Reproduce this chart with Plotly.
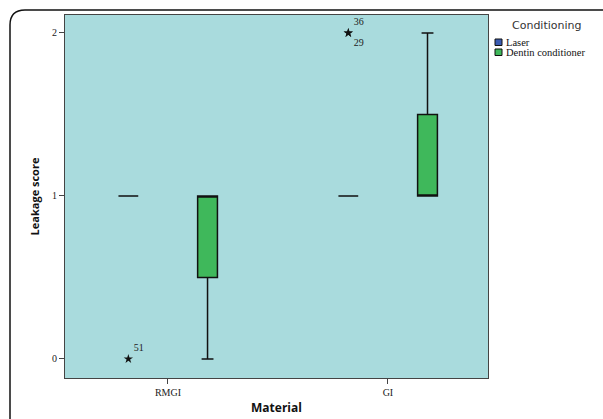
import plotly.graph_objects as go

materials = ["RMGI", "GI"]
conditioning = ["Laser", "Dentin conditioner"]
colors = ["#3a5cb3", "#3fb85b"]

# box statistics per conditioning, per material
q1 = {"Laser": [1, 1], "Dentin conditioner": [0.5, 1]}
median = {"Laser": [1, 1], "Dentin conditioner": [1, 1]}
q3 = {"Laser": [1, 1], "Dentin conditioner": [1, 1.5]}
lowerfence = {"Laser": [1, 1], "Dentin conditioner": [0, 1]}
upperfence = {"Laser": [1, 1], "Dentin conditioner": [1, 2]}

# extreme outliers (SPSS stars) for Laser group
out_material = [0, 1, 1]
out_value = [0, 2, 2]
out_case = ["51", "36", "29"]
out_textpos = ["top right", "top right", "bottom right"]

group_offset = {"Laser": -0.18, "Dentin conditioner": 0.18}
box_w = 0.09

L, R, T, B = 65, 115, 15, 41
W, H = 603, 419
PW, PH = W - L - R, H - T - B


def px(xp):
    return (xp - L) / PW


def py(yp):
    return (H - B - yp) / PH


fig = go.Figure()
for cond, col in zip(conditioning, colors):
    xs = [i + group_offset[cond] for i in range(len(materials))]
    fig.add_trace(go.Box(
        name=cond, x=xs, q1=q1[cond], median=median[cond], q3=q3[cond],
        lowerfence=lowerfence[cond], upperfence=upperfence[cond],
        width=box_w, fillcolor=col, whiskerwidth=0.6,
        line=dict(color="#111111", width=1.5), boxpoints=False,
        showlegend=False,
    ))

fig.add_trace(go.Scatter(
    x=[m + group_offset["Laser"] for m in out_material], y=out_value,
    mode="markers+text", text=out_case, textposition=out_textpos,
    textfont=dict(family="Liberation Serif", size=10, color="#222"),
    marker=dict(symbol="star", size=7, color="#111"),
    showlegend=False, hoverinfo="skip",
))

fig.update_layout(
    width=W, height=H,
    margin=dict(l=L, r=R, t=T, b=B, autoexpand=False),
    paper_bgcolor="white", plot_bgcolor="#a9dbdd",
    boxmode="overlay", showlegend=False,
    xaxis=dict(
        range=[-0.468, 1.455], tickmode="array", tickvals=list(range(len(materials))),
        ticktext=materials, showgrid=False, zeroline=False, automargin=False,
        showline=True, mirror=True, linecolor="#444", linewidth=1,
        ticks="outside", ticklen=5, tickcolor="#444",
        tickfont=dict(family="Liberation Serif", size=10, color="#222"),
        title=dict(text="<b>Material</b>", standoff=6,
                   font=dict(family="Open Sans", size=12, color="#111")),
    ),
    yaxis=dict(
        range=[-0.117, 2.11], tickvals=[0, 1, 2], showgrid=False, zeroline=False,
        automargin=False,
        showline=True, mirror=True, linecolor="#444", linewidth=1,
        ticks="outside", ticklen=5, tickcolor="#444",
        tickfont=dict(family="Liberation Serif", size=10, color="#222"),
        title=dict(text="<b>Leakage score</b>", standoff=10,
                   font=dict(family="Open Sans", size=11, color="#111")),
    ),
)

# custom legend (title + colour squares + names)
fig.add_annotation(xref="paper", yref="paper", x=px(547), y=py(26), text="Conditioning",
                   showarrow=False, xanchor="center", yanchor="middle",
                   font=dict(family="DejaVu Sans", size=11, color="#333"))
for k, (cond, col) in enumerate(zip(conditioning, colors)):
    top = 39 + k * 10
    fig.add_shape(type="rect", xref="paper", yref="paper",
                  x0=px(495), x1=px(502), y0=py(top), y1=py(top + 6.5),
                  fillcolor=col, line=dict(color="#111", width=1), layer="above")
    fig.add_annotation(xref="paper", yref="paper", x=px(504), y=py(top + 3.3), text=cond,
                       showarrow=False, xanchor="left", yanchor="middle",
                       font=dict(family="Liberation Serif", size=10.5, color="#111"))

# rounded frame (top-left corner visible) around the picture
path = (f"M {px(10)},{py(419)} L {px(10)},{py(25)} "
        f"Q {px(10)},{py(10)} {px(25)},{py(10)} L {px(603)},{py(10)}")
fig.add_shape(type="path", xref="paper", yref="paper", path=path,
              line=dict(color="#111", width=1.5), layer="above")

fig.write_html("out.html", config={"displayModeBar": False},
               post_script="document.body.style.margin='0';document.body.style.overflow='hidden';")
